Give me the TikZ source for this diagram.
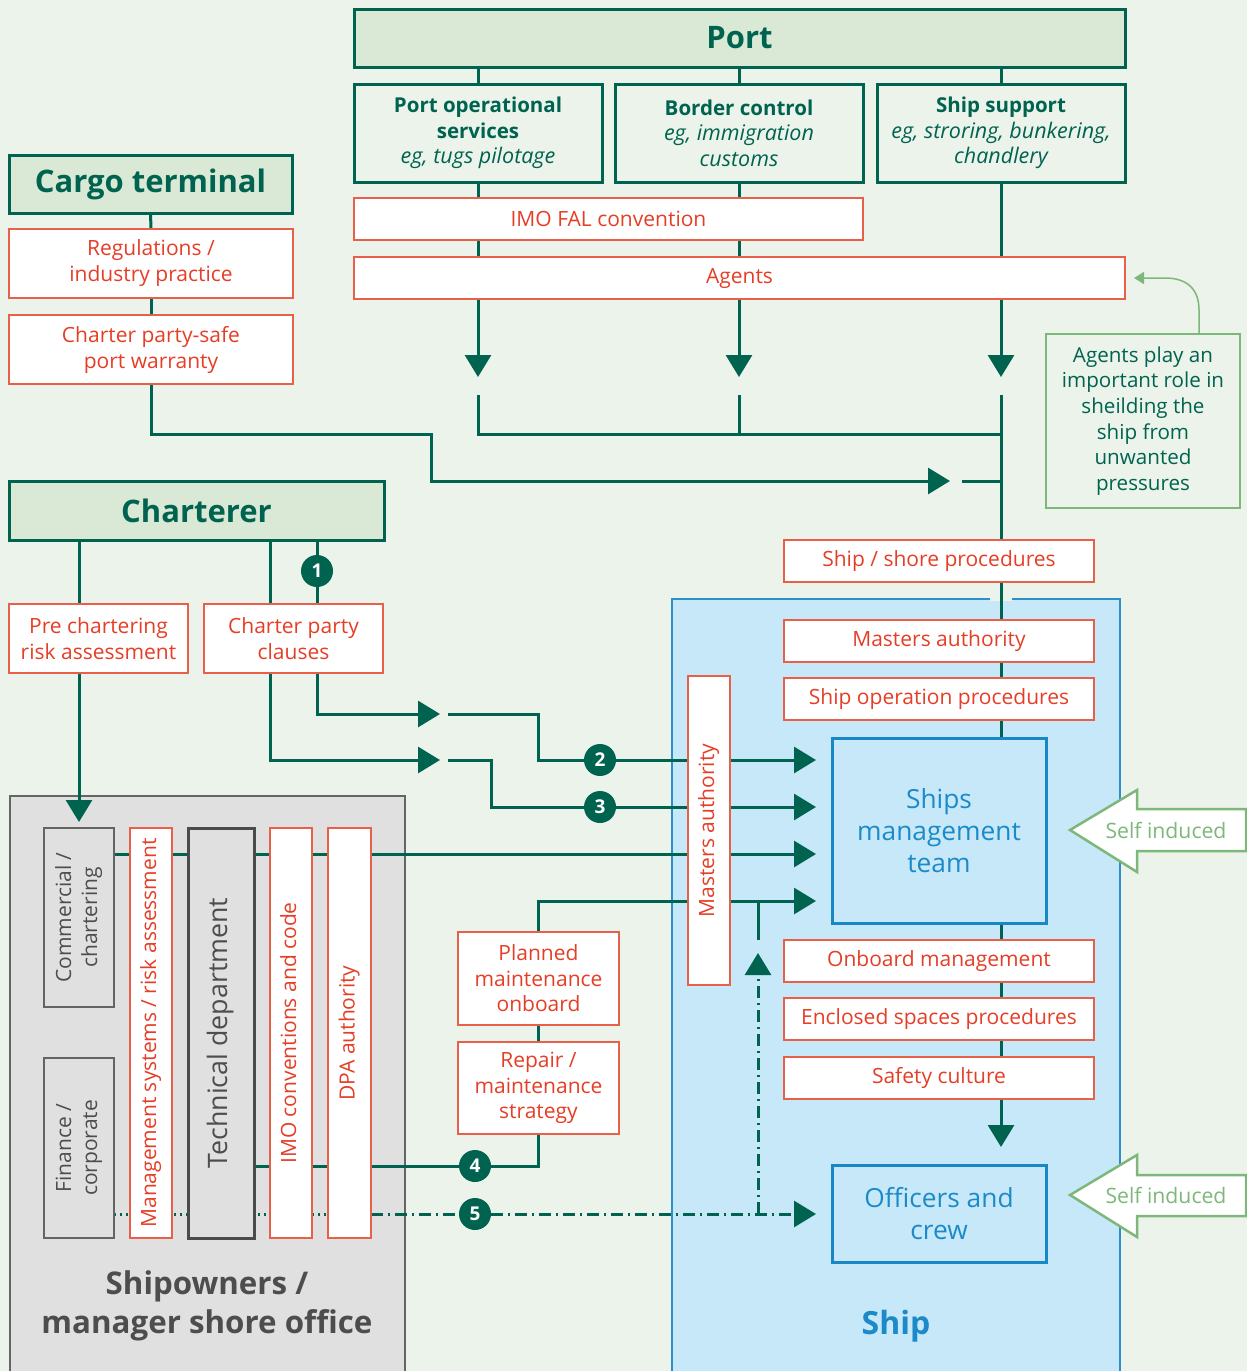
\documentclass[tikz,border=0pt]{standalone}
\usepackage{fontspec}
\setmainfont{Open Sans}
\usetikzlibrary{arrows.meta}
\pgfdeclarelayer{bgl}
\pgfdeclarelayer{lnl}
\pgfsetlayers{bgl,lnl,main}
\definecolor{bgc}{RGB}{236,243,234}
\definecolor{lgf}{RGB}{217,233,214}
\definecolor{dg}{RGB}{0,99,79}
\definecolor{redt}{RGB}{230,62,38}
\definecolor{redb}{RGB}{232,96,74}
\definecolor{gryf}{RGB}{224,224,224}
\definecolor{gryb}{RGB}{100,100,100}
\definecolor{gryd}{RGB}{75,75,75}
\definecolor{gryt}{RGB}{77,77,77}
\definecolor{shipf}{RGB}{198,232,249}
\definecolor{shipb}{RGB}{42,143,203}
\definecolor{smtb}{RGB}{23,135,198}
\definecolor{blt}{RGB}{28,138,200}
\definecolor{pale}{RGB}{125,184,122}
\newcommand{\fs}[2]{\fontsize{#1}{#2}\selectfont}
\newcommand{\vtxt}[1]{\rotatebox{90}{\begin{tabular}{@{}c@{}}#1\end{tabular}}}
\newcommand{\eg}[1]{{\fs{21.5}{25.5}\itshape #1}}
\begin{document}
\begin{tikzpicture}[x=1pt,y=-1pt,
 box/.style={rectangle, inner sep=0pt, outer sep=0pt, align=center},
 head/.style={box, draw=dg, line width=3pt, fill=lgf, text=dg, font=\fs{31}{36}\bfseries},
 sub/.style={box, draw=dg, line width=3pt, text=dg, font=\fs{20.5}{25.5}},
 rbox/.style={box, draw=redb, line width=1.5pt, fill=white, text=redt, font=\fs{21}{26}},
 gbox/.style={box, draw=gryb, line width=1.5pt, fill=gryf, text=gryt, font=\fs{21}{26}},
 bbox/.style={box, draw=smtb, line width=3pt, fill=shipf, text=blt, font=\fs{26.3}{32}},
 badge/.style={circle, fill=dg, text=white, font=\fs{19}{19}\bfseries, minimum size=32pt, inner sep=0pt},
 conn/.style={draw=dg, line width=3pt},
 arr/.style={-{Triangle[length=22pt,width=26pt]}},
 dashdot/.style={dash pattern=on 12pt off 5pt on 2pt off 5pt},
 dotl/.style={dash pattern=on 2pt off 4pt}
]
\useasboundingbox (0,0) rectangle (1247,1371);

% ---------- containers ----------
\begin{pgfonlayer}{bgl}
\fill[bgc] (-5,-5) rectangle (1252,1376);
\node[box, draw=gryb, line width=1.2pt, fill=gryf, minimum width=395, minimum height=590] (shore) at (207.5,1091) {};
\node[box, draw=shipb, line width=1.2pt, fill=shipf, minimum width=448, minimum height=790] (ship) at (896,994) {};
\fill[bgc] (990,597) rectangle (1012,601);
\end{pgfonlayer}
\node[font=\fs{31.3}{39}\bfseries, text=gryt, align=center] (shorelbl) at (207,1306) {Shipowners /\\manager shore office};
\node[font=\fs{32}{36}\bfseries, text=blt] (shiplbl) at (896,1326) {Ship};

% ---------- port ----------
\node[head, minimum width=771, minimum height=58] (port) at (739.5,38) {Port};
\node[sub, minimum width=248, minimum height=98] (pos) at (478,133) {\textbf{Port operational}\\\textbf{services}\\\eg{eg, tugs pilotage}};
\node[sub, minimum width=248, minimum height=98] (bc) at (739,133) {\textbf{Border control}\\\eg{eg, immigration}\\\eg{customs}};
\node[sub, minimum width=248, minimum height=98] (ss) at (1001,133) {\textbf{Ship support}\\\eg{eg, stroring, bunkering,}\\\eg{chandlery}};
\node[rbox, minimum width=509, minimum height=42] (fal) at (608.5,219) {IMO FAL convention};
\node[rbox, minimum width=771, minimum height=42] (agents) at (739.5,278) {Agents};

% ---------- cargo terminal ----------
\node[head, minimum width=283, minimum height=58] (cargo) at (150.5,184) {Cargo terminal};
\node[rbox, minimum width=284, minimum height=69] (regs) at (151,263.5) {Regulations /\\industry practice};
\node[rbox, minimum width=284, minimum height=69] (cpsafe) at (151,349.5) {Charter party-safe\\port warranty};

% ---------- note ----------
\node[box, draw=pale, line width=1.5pt, text=dg, font=\fs{20.6}{25.6}, minimum width=194, minimum height=174] (note) at (1143,421) {Agents play an\\important role in\\sheilding the\\ship from\\unwanted\\pressures};

% ---------- charterer ----------
\node[head, minimum width=375, minimum height=59] (charterer) at (196.5,510.5) {Charterer};
\node[rbox, minimum width=179, minimum height=69] (prechart) at (98.5,638.5) {Pre chartering\\risk assessment};
\node[rbox, minimum width=179, minimum height=69] (cpclauses) at (293.5,638.5) {Charter party\\clauses};

% ---------- shore office columns ----------
\node[gbox, minimum width=70, minimum height=179] (comm) at (79,917.5) {\vtxt{Commercial /\\chartering}};
\node[gbox, minimum width=70, minimum height=180] (fin) at (79,1148) {\vtxt{Finance /\\corporate}};
\node[rbox, minimum width=42, minimum height=410] (mgmt) at (151,1033) {\vtxt{Management systems / risk assessment}};
\node[box, draw=gryd, line width=3pt, fill=gryf, text=gryt, font=\fs{26.8}{30}, minimum width=66, minimum height=410] (tech) at (221,1033) {\vtxt{Technical department}};
\node[rbox, minimum width=42, minimum height=410] (imo) at (291,1033) {\vtxt{IMO conventions and code}};
\node[rbox, minimum width=43, minimum height=410] (dpa) at (349.5,1033) {\vtxt{DPA authority}};

% ---------- maintenance ----------
\node[rbox, font=\fs{21}{25.5}, minimum width=161, minimum height=93] (planned) at (538.5,978.5) {Planned\\maintenance\\onboard};
\node[rbox, font=\fs{21}{25.5}, minimum width=161, minimum height=92] (repair) at (538.5,1088) {Repair /\\maintenance\\strategy};

% ---------- ship ----------
\node[rbox, minimum width=310, minimum height=42] (ssproc) at (939,561) {Ship / shore procedures};
\node[rbox, minimum width=310, minimum height=42] (mastauth) at (939,641) {Masters authority};
\node[rbox, minimum width=310, minimum height=42] (shipop) at (939,699) {Ship operation procedures};
\node[bbox, minimum width=214, minimum height=185] (smt) at (939,830.5) {Ships\\management\\team};
\node[rbox, minimum width=310, minimum height=42] (onboard) at (939,961) {Onboard management};
\node[rbox, minimum width=310, minimum height=42] (enclosed) at (939,1019) {Enclosed spaces procedures};
\node[rbox, minimum width=310, minimum height=42] (safety) at (939,1078) {Safety culture};
\node[bbox, minimum width=214, minimum height=97] (officers) at (939,1213.5) {Officers and\\crew};
\node[rbox, minimum width=42, minimum height=309] (mastv) at (709,830.5) {\vtxt{Masters authority}};

% ---------- self induced arrows ----------
\draw[pale, line width=2.5pt, fill=white, line join=miter] (1246,809) -- (1137,809) -- (1137,790) -- (1070,830) -- (1137,872) -- (1137,851) -- (1246,851) -- cycle;
\node[text=pale, font=\fs{21.2}{24}] (si1) at (1166,830) {Self induced};
\draw[pale, line width=2.5pt, fill=white, line join=miter] (1246,1175) -- (1137,1175) -- (1137,1155) -- (1070,1195) -- (1137,1237) -- (1137,1216) -- (1246,1216) -- cycle;
\node[text=pale, font=\fs{21.2}{24}] (si2) at (1166,1195) {Self induced};

% ---------- badges ----------
\node[badge] (b1) at (317,571) {1};
\node[badge] (b2) at (600,760) {2};
\node[badge] (b3) at (600,807) {3};
\node[badge] (b4) at (475,1166) {4};
\node[badge] (b5) at (475,1214) {5};

% ---------- coordinates ----------
\coordinate (a1) at (478,377); \coordinate (a1b) at (478,395); \coordinate (j1) at (478,434);
\coordinate (a2) at (739,377); \coordinate (a2b) at (739,395); \coordinate (j2) at (739,434);
\coordinate (a3) at (1001,377); \coordinate (a3b) at (1001,395); \coordinate (j3) at (1001,434);
\coordinate (a4) at (1001,1147);
\coordinate (g1) at (151,434); \coordinate (g2) at (431,434); \coordinate (g3) at (431,481);
\coordinate (g4) at (950,481); \coordinate (g5) at (962,481); \coordinate (g6) at (1001,481);
\coordinate (nc) at (1199,310); \coordinate (nt) at (1134,278);
\coordinate (p1) at (79,0); \coordinate (p2) at (79,822); \coordinate (q1) at (270,0);
\coordinate (c1) at (317,714); \coordinate (c1t) at (440,714); \coordinate (c1b) at (448,714); \coordinate (c1c) at (538,714);
\coordinate (d1) at (270,760); \coordinate (d1t) at (440,760); \coordinate (d1b) at (448,760); \coordinate (d1c) at (491,760);
\coordinate (e1) at (0,854); \coordinate (f1) at (0,901);
\coordinate (v1) at (758,1214); \coordinate (v2) at (758,953); \coordinate (v3) at (758,940); \coordinate (v4) at (758,901);

% ---------- connectors ----------
\begin{pgfonlayer}{lnl}
\draw[conn] (port.south -| pos) -- (pos.north);
\draw[conn] (port.south -| bc) -- (bc.north);
\draw[conn] (port.south -| ss) -- (ss.north);
\draw[conn] (pos.south) -- (pos.south |- fal.north);
\draw[conn] (bc.south) -- (bc.south |- fal.north);
\draw[conn] (pos.south |- fal.south) -- (pos.south |- agents.north);
\draw[conn] (bc.south |- fal.south) -- (bc.south |- agents.north);
\draw[conn] (ss.south) -- (ss.south |- agents.north);
\draw[conn, arr] (pos.south |- agents.south) -- (a1);
\draw[conn, arr] (bc.south |- agents.south) -- (a2);
\draw[conn, arr] (ss.south |- agents.south) -- (a3);
\draw[conn] (a1b) -- (j1) -- (j3);
\draw[conn] (a2b) -- (j2);
\draw[conn] (a3b) -- (a3b |- safety.south);
\draw[conn, arr] (a3b |- safety.south) -- (a4);
% cargo terminal
\draw[conn] (cargo.south) -- (regs.north);
\draw[conn] (regs.south) -- (cpsafe.north);
\draw[conn, arr] (cpsafe.south) -- (g1) -- (g2) -- (g3) -- (g4);
\draw[conn] (g5) -- (g6);
% note
\draw[pale, line width=1.5pt, -{Triangle[length=10pt,width=12pt]}] (note.north -| nc) -- (nc) .. controls (1199,290) and (1188,278) .. (1165,278) -- (nt);
% charterer
\draw[conn] (charterer.south -| p1) -- (prechart.north -| p1);
\draw[conn] (charterer.south -| q1) -- (cpclauses.north -| q1);
\draw[conn] (charterer.south -| b1) -- (b1) -- (cpclauses.north -| b1);
\draw[conn, arr] (prechart.south -| p1) -- (p2);
\draw[conn, arr] (cpclauses.south -| c1) -- (c1) -- (c1t);
\draw[conn, arr, shorten >=16pt] (c1b) -- (c1c) -- (c1c |- b2) -- (b2) -- (smt.west |- b2);
\draw[conn, arr] (cpclauses.south -| d1) -- (d1) -- (d1t);
\draw[conn, arr, shorten >=16pt] (d1b) -- (d1c) -- (d1c |- b3) -- (b3) -- (smt.west |- b3);
\draw[conn, arr, shorten >=16pt] (comm.east |- e1) -- (smt.west |- e1);
\draw[conn, arr, shorten >=16pt] (planned.north) -- (planned.north |- f1) -- (smt.west |- f1);
\draw[conn] (planned.south) -- (repair.north);
\draw[conn] (tech.east |- b4) -- (b4) -- (b4 -| repair.south) -- (repair.south);
\draw[conn, dotl] (fin.east |- b5) -- (dpa.east |- b5);
\draw[conn, dashdot, arr, shorten >=16pt] (dpa.east |- b5) -- (b5) -- (officers.west |- b5);
\draw[conn, dashdot, arr] (v1) -- (v2);
\draw[conn] (v3) -- (v4);
\end{pgfonlayer}
\end{tikzpicture}
\end{document}
